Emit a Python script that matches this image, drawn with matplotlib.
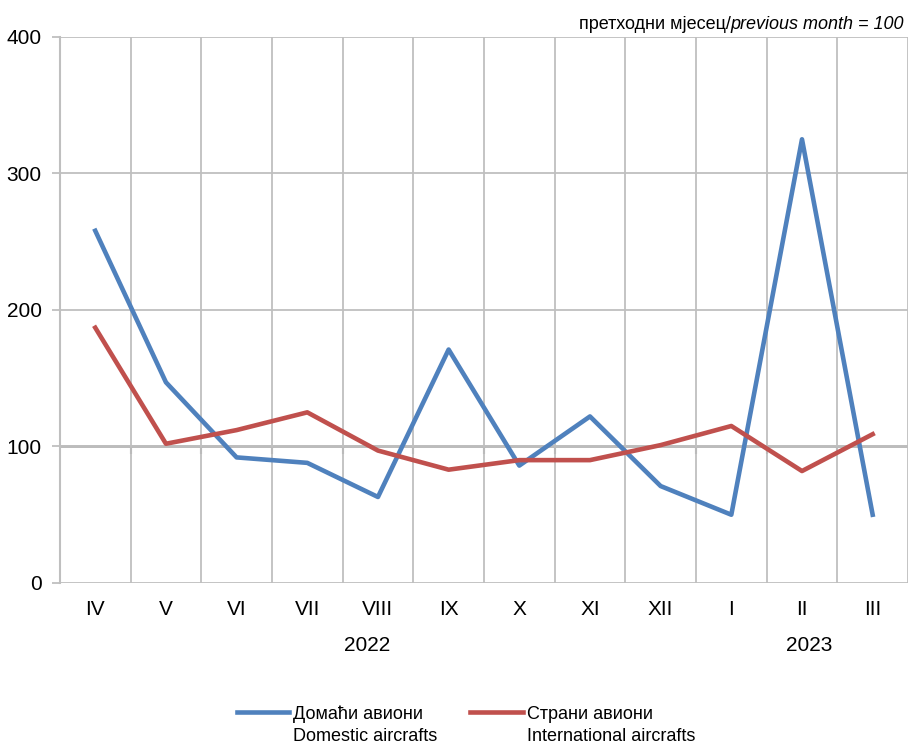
import numpy as np
import matplotlib.pyplot as plt

months = ['IV', 'V', 'VI', 'VII', 'VIII', 'IX', 'X', 'XI', 'XII', 'I', 'II', 'III']
domestic = [258, 147, 92, 88, 63, 171, 86, 122, 71, 50, 325, 50]
international = [187, 102, 112, 125, 97, 83, 90, 90, 101, 115, 82, 109]
years = ['2022', '2023']
year_pos = [3.85, 10.1]
labels_sr = ['Домаћи авиони', 'Страни авиони']
labels_en = ['Domestic aircrafts', 'International aircrafts']

plt.rcParams['font.family'] = ['Liberation Sans', 'DejaVu Sans']

grid_c = '#BFBFBF'
fig = plt.figure(figsize=(9.08, 7.44), dpi=100)
ax = fig.add_axes([0.066, 0.2164, 0.934, 0.734])

x = np.arange(len(months))
ax.plot(x, domestic, color='#4F81BD', lw=3.3, label=labels_sr[0], zorder=3)
ax.plot(x, international, color='#C0504D', lw=3.3, label=labels_sr[1], zorder=3)

ax.set_xlim(-0.5, 11.5)
ax.set_ylim(0, 400)
ax.set_yticks([0, 100, 200, 300, 400])
ax.set_xticks(x, months)
ax.set_xticks(np.arange(-0.5, 12, 0.5), minor=True)
ax.grid(True, which='minor', axis='x', color=grid_c, lw=1.3)
ax.grid(True, which='major', axis='y', color=grid_c, lw=1.3)
ax.set_axisbelow(True)
for s in ['top', 'right', 'bottom']:
    ax.spines[s].set_visible(False)
ax.spines['left'].set_color(grid_c)
ax.spines['left'].set_linewidth(1.5)
ax.tick_params(axis='x', which='both', length=0, labelsize=15, pad=12)
ax.tick_params(axis='y', length=6, color=grid_c, width=1.3, labelsize=15, pad=7)

# horizontal axis crosses at 100
sec = ax.secondary_xaxis(0.25)
sec.set_xticks(np.arange(0.5, 11, 1))
sec.set_xticklabels([])
sec.tick_params(length=6, color='#8C8C8C', width=1.5)
sec.spines['bottom'].set_color('#A6A6A6')
sec.spines['bottom'].set_linewidth(1.8)

for yr, p in zip(years, year_pos):
    ax.text(p, -46, yr, ha='center', va='center', fontsize=15)

t1 = fig.text(0.996, 0.967, 'previous month = 100', ha='right', va='center',
              fontsize=13, style='italic')
fig.canvas.draw()
bb = t1.get_window_extent()
fig.text(bb.x0 / fig.bbox.width, 0.967, 'претходни мјесец/', ha='right', va='center',
         fontsize=13)

leg = fig.legend(loc='lower center', ncol=2, bbox_to_anchor=(0.49, 0.007), frameon=False,
                 fontsize=13, handlelength=2.9, handletextpad=0.25, columnspacing=2.6)
fig.canvas.draw()
for t, en in zip(leg.get_texts(), labels_en):
    tb = t.get_window_extent()
    fig.text(tb.x0 / fig.bbox.width, (tb.y0 - 22) / fig.bbox.height, en,
             ha='left', va='bottom', fontsize=13)

fig.savefig('out.png', dpi=100)
